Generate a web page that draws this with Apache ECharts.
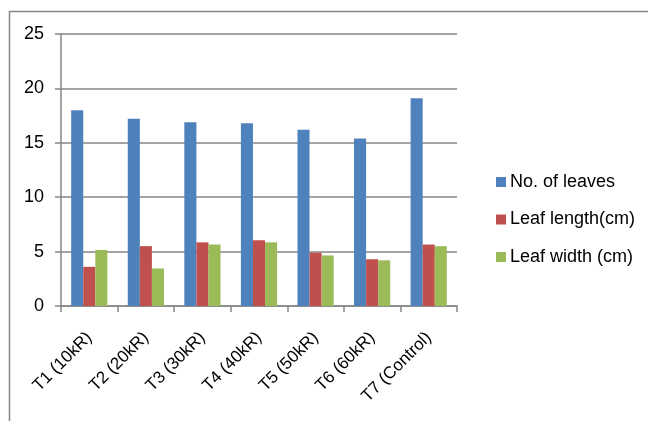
<!DOCTYPE html>
<html>
<head>
<meta charset="utf-8">
<script src="https://cdn.jsdelivr.net/npm/echarts@6/dist/echarts.min.js"></script>
<style>
  html, body { margin: 0; padding: 0; background: #fff; }
  #chart { width: 648px; height: 421px; }
</style>
</head>
<body>
<div id="chart"></div>
<script>
const categories = ['T1 (10kR)', 'T2 (20kR)', 'T3 (30kR)', 'T4 (40kR)', 'T5 (50kR)', 'T6 (60kR)', 'T7 (Control)'];
const noOfLeaves = [18.0, 17.2, 16.9, 16.8, 16.2, 15.4, 19.1];
const leafLength = [3.6, 5.5, 5.85, 6.05, 4.9, 4.3, 5.65];
const leafWidth = [5.15, 3.45, 5.65, 5.85, 4.65, 4.2, 5.5];
const yTicks = [0, 5, 10, 15, 20, 25];

const font = 'Liberation Sans';
const gray = '#868686';

const chart = echarts.init(document.getElementById('chart'));
const option = {
  animation: false,
  textStyle: { fontFamily: font },
  graphic: [{
    type: 'rect',
    shape: { x: 9.5, y: 11.5, width: 700, height: 500 },
    style: { fill: 'none', stroke: gray, lineWidth: 1.5 },
    silent: true
  }],
  grid: { left: 61, top: 34, right: 191, bottom: 115 },
  legend: {
    orient: 'vertical',
    left: 496,
    top: 173,
    padding: 0,
    itemWidth: 10,
    itemHeight: 10,
    itemGap: 19.5,
    icon: 'rect',
    textStyle: { fontFamily: font, fontSize: 18, lineHeight: 18, color: '#000', padding: [0, 0, 0, -1] },
    data: ['No. of leaves', 'Leaf length(cm)', 'Leaf width (cm)']
  },
  xAxis: {
    type: 'category',
    data: categories,
    axisLine: { lineStyle: { color: gray, width: 1.5 } },
    axisTick: { show: true, length: 6, lineStyle: { color: gray, width: 1.5 } },
    axisLabel: { rotate: 45, fontSize: 17, color: '#000', margin: 29, interval: 0 }
  },
  yAxis: {
    type: 'value',
    min: yTicks[0],
    max: yTicks[yTicks.length - 1],
    interval: 5,
    axisLine: { show: true, lineStyle: { color: gray, width: 1.5 } },
    axisTick: { show: true, length: 6, lineStyle: { color: gray, width: 1.5 } },
    splitLine: { lineStyle: { color: gray, width: 1.5 } },
    axisLabel: { fontSize: 18, color: '#000', margin: 17 }
  },
  series: [
    { name: 'No. of leaves', type: 'bar', data: noOfLeaves, itemStyle: { color: '#4F81BD' }, barGap: '0%', barCategoryGap: '36%' },
    { name: 'Leaf length(cm)', type: 'bar', data: leafLength, itemStyle: { color: '#C0504D' }, barGap: '0%', barCategoryGap: '36%' },
    { name: 'Leaf width (cm)', type: 'bar', data: leafWidth, itemStyle: { color: '#9BBB59' }, barGap: '0%', barCategoryGap: '36%' }
  ]
};
chart.setOption(option);
</script>
</body>
</html>
